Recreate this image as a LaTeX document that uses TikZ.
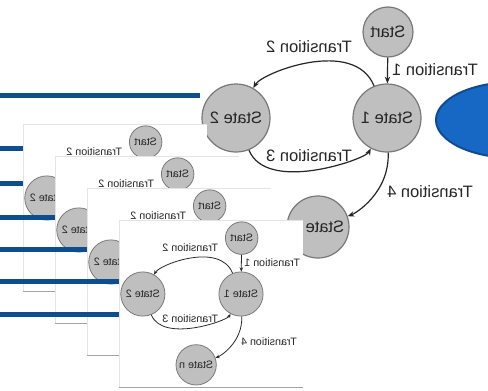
\documentclass[tikz,border=0pt]{standalone}
\usepackage{fontspec}
\setmainfont{Liberation Sans}
\usepackage{tikz}
\usetikzlibrary{arrows.meta}

\definecolor{barblue}{RGB}{12,78,142}
\definecolor{blobblue}{RGB}{22,104,196}
\definecolor{blobline}{RGB}{15,75,145}
\definecolor{stategray}{RGB}{191,191,191}
\definecolor{stateline}{RGB}{120,120,120}
\definecolor{slideline}{RGB}{165,165,165}
\definecolor{slideedge}{RGB}{228,228,228}

\tikzset{
  fsmstate/.style={circle, draw=stateline, fill=stategray, inner sep=0pt,
    text=black!85, font=\fontsize{12.4}{14}\selectfont},
  fsmlabel/.style={inner sep=0pt, text=black!85, font=\fontsize{12.4}{14}\selectfont},
  bar/.style={barblue, line width=3.75pt},
  pics/fsm/.style={code={
    \begin{scope}[scale=#1, transform shape, line width={0.9pt*#1}]
      \node[fsmstate, minimum size=37.5pt] (-start) at (1,86) {\reflectbox{Start}};
      \node[fsmstate, minimum size=51pt] (-s1) at (0,0) {\reflectbox{State 1}};
      \node[fsmstate, minimum size=51pt] (-s2) at (-151,0) {\reflectbox{State 2}};
      \node[fsmstate, minimum size=46.5pt] (-sn) at (-69,-109) {\reflectbox{State n}};
      \node[fsmlabel] (-t1) at (48,48) {\reflectbox{Transition 1}};
      \node[fsmlabel] (-t2) at (-78,71) {\reflectbox{Transition 2}};
      \node[fsmlabel] (-t3) at (-78,-38) {\reflectbox{Transition 3}};
      \node[fsmlabel] (-t4) at (43,-74) {\reflectbox{Transition 4}};
      \begin{scope}[draw=black!85, -{Stealth[length=5pt, width=4pt, scale=#1]}]
        \draw (-start) -- (-s1);
        \draw (-s1) to[out=112, in=60, looseness=0.95] (-s2);
        \draw (-s2) to[out=-68, in=-118, looseness=0.85] (-s1);
        \draw (-s1) to[out=-88, in=20] (-sn);
      \end{scope}
    \end{scope}
  }}
}

\begin{document}
\begin{tikzpicture}[x=0.75pt, y=0.75pt]
  \useasboundingbox (0,0) rectangle (488,390);
  \clip (0,0) rectangle (488,390);
  \fill[white] (0,0) rectangle (488,390);

  % big diagram and blob
  \pic (big) at (387,272) {fsm=1};
  \filldraw[fill=blobblue, draw=blobline, line width=1.5pt] (515,270) ellipse [x radius=79, y radius=38];

  % bars behind the slides
  \draw[bar] (0,295) -- (200,295);
  \draw[bar] (0,242) -- (60,242);
  \draw[bar] (0,207) -- (60,207);

  % slide A
  \fill[white] (23,99) rectangle (207,266);
  \draw[slideedge] (23,99) -- (23,266) -- (207,266);
  \draw[slideline] (23,99) -- (207,99);
  \pic (slideA) at (145,192) {fsm=0.65};

  \draw[bar] (0,173) -- (80,173);

  % slide B
  \fill[white] (55,67) rectangle (239,234);
  \draw[slideedge] (55,67) -- (55,234) -- (239,234);
  \draw[slideline] (55,67) -- (239,67);
  \pic (slideB) at (177,160) {fsm=0.65};

  \draw[bar] (0,141) -- (110,141);

  % slide C
  \fill[white] (87,35) rectangle (271,202);
  \draw[slideedge] (87,35) -- (87,202) -- (271,202);
  \draw[slideline] (87,35) -- (271,35);
  \pic (slideC) at (209,128) {fsm=0.65};

  \draw[bar] (0,109) -- (140,109);
  \draw[bar] (0,76) -- (140,76);

  % slide D
  \fill[white] (119,3) rectangle (303,170);
  \draw[slideedge] (119,3) -- (119,170) -- (303,170);
  \draw[slideline] (119,3) -- (303,3);
  \pic (slideD) at (241,96) {fsm=0.65};
\end{tikzpicture}
\end{document}
